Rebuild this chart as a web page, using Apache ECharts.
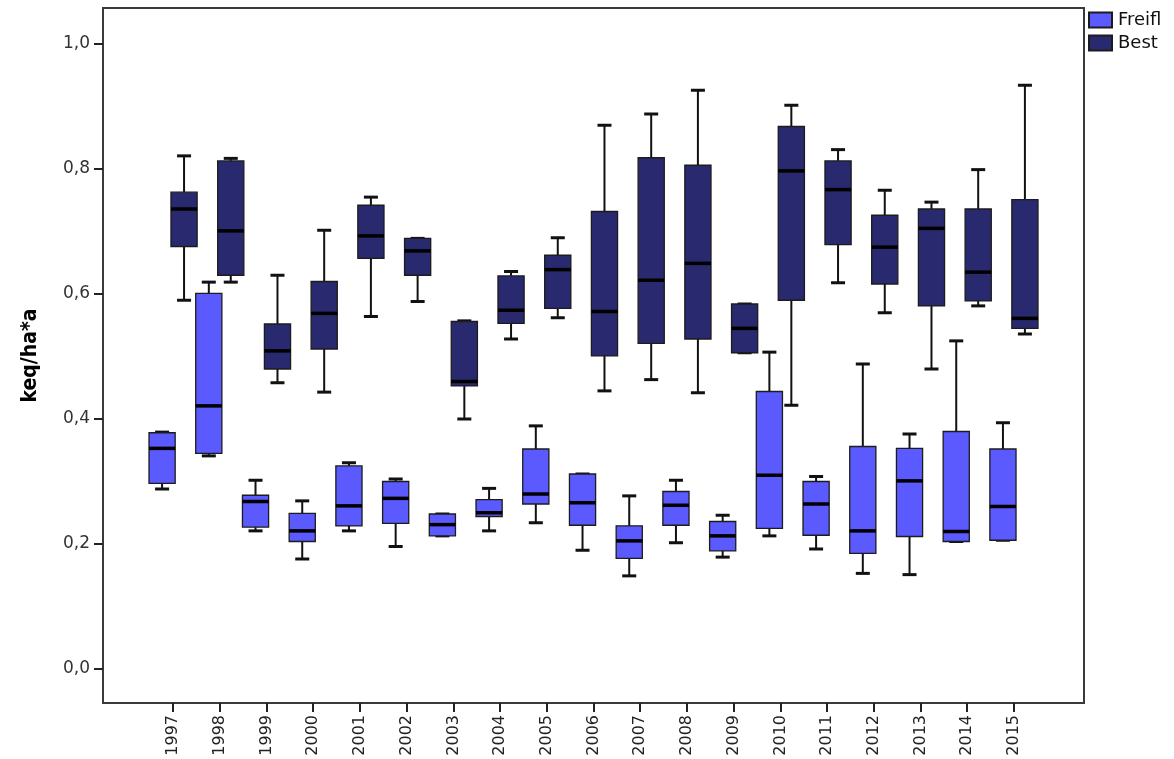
<!DOCTYPE html>
<html>
<head>
<meta charset="utf-8">
<script src="https://cdn.jsdelivr.net/npm/echarts@6/dist/echarts.min.js"></script>
<style>
  html, body { margin: 0; padding: 0; background: #ffffff; }
  #chart { width: 1174px; height: 759px; }
</style>
</head>
<body>
<div id="chart"></div>
<script>
// Years on the category axis
const years = ['1997','1998','1999','2000','2001','2002','2003','2004','2005','2006',
               '2007','2008','2009','2010','2011','2012','2013','2014','2015'];

// Freifläche: five-number summaries per year
const freiMin = [0.288,0.341,0.221,0.176,0.221,0.196,0.213,0.221,0.234,0.190,0.149,0.202,0.179,0.213,0.192,0.153,0.151,0.204,0.206];
const freiQ1  = [0.297,0.345,0.227,0.204,0.229,0.233,0.213,0.244,0.264,0.230,0.177,0.230,0.189,0.225,0.214,0.185,0.212,0.204,0.206];
const freiMed = [0.353,0.421,0.268,0.221,0.261,0.273,0.231,0.250,0.280,0.266,0.205,0.262,0.213,0.310,0.264,0.221,0.301,0.220,0.260];
const freiQ3  = [0.378,0.601,0.278,0.249,0.325,0.300,0.248,0.271,0.352,0.312,0.229,0.284,0.236,0.444,0.300,0.356,0.353,0.380,0.352];
const freiMax = [0.379,0.619,0.302,0.269,0.330,0.304,0.248,0.289,0.389,0.312,0.277,0.302,0.246,0.507,0.308,0.488,0.376,0.525,0.394];

// Bestand: five-number summaries per year
const bestMin = [0.590,0.619,0.458,0.443,0.564,0.588,0.400,0.528,0.562,0.445,0.463,0.442,0.506,0.422,0.618,0.570,0.480,0.581,0.536];
const bestQ1  = [0.676,0.630,0.480,0.512,0.657,0.630,0.453,0.553,0.577,0.501,0.521,0.528,0.506,0.590,0.679,0.616,0.581,0.589,0.545];
const bestMed = [0.736,0.701,0.509,0.569,0.693,0.669,0.460,0.574,0.639,0.572,0.622,0.649,0.545,0.797,0.767,0.675,0.705,0.635,0.561];
const bestQ3  = [0.763,0.813,0.552,0.620,0.742,0.689,0.556,0.629,0.662,0.732,0.818,0.806,0.584,0.868,0.813,0.726,0.736,0.736,0.751];
const bestMax = [0.821,0.817,0.630,0.702,0.755,0.689,0.557,0.636,0.690,0.870,0.888,0.926,0.584,0.902,0.831,0.766,0.747,0.799,0.934];

// Tick values for the value axis
const yTicks = [0, 0.2, 0.4, 0.6, 0.8, 1.0];

// Empty categories pad the plot area on both sides
const categories = [''].concat(years, ['']);

function rows(mn, q1, md, q3, mx) {
  return years.map((y, i) => [y, mn[i], q1[i], md[i], q3[i], mx[i]]);
}

// Draws one box with whiskers, caps and a heavy median bar
function boxRenderer(side) {
  return function (params, api) {
    const cat = api.value(0);
    const band = api.size([1, 0])[0];
    const cx = api.coord([cat, 0])[0] + side * band * 0.235;
    const yMin = api.coord([cat, api.value(1)])[1];
    const yQ1 = api.coord([cat, api.value(2)])[1];
    const yMed = api.coord([cat, api.value(3)])[1];
    const yQ3 = api.coord([cat, api.value(4)])[1];
    const yMax = api.coord([cat, api.value(5)])[1];
    const bw = band * 0.56;
    const cw = band * 0.3;
    const fill = api.visual('color');
    const ink = { stroke: '#111111', lineWidth: 2 };
    return {
      type: 'group',
      children: [
        { type: 'line', shape: { x1: cx, y1: yMax, x2: cx, y2: yQ3 }, style: ink },
        { type: 'line', shape: { x1: cx, y1: yQ1, x2: cx, y2: yMin }, style: ink },
        { type: 'line', shape: { x1: cx - cw / 2, y1: yMax, x2: cx + cw / 2, y2: yMax }, style: { stroke: '#111111', lineWidth: 3 } },
        { type: 'line', shape: { x1: cx - cw / 2, y1: yMin, x2: cx + cw / 2, y2: yMin }, style: { stroke: '#111111', lineWidth: 3 } },
        { type: 'rect', shape: { x: cx - bw / 2, y: yQ3, width: bw, height: yQ1 - yQ3 },
          style: { fill: fill, stroke: '#1c1c1c', lineWidth: 1.3 } },
        { type: 'line', shape: { x1: cx - bw / 2, y1: yMed, x2: cx + bw / 2, y2: yMed },
          style: { stroke: '#000000', lineWidth: 3.5 } }
      ]
    };
  };
}

const chart = echarts.init(document.getElementById('chart'), null, { renderer: 'canvas' });

chart.setOption({
  backgroundColor: '#ffffff',
  animation: false,
  grid: {
    left: 103, right: 90, top: 8, bottom: 56,
    show: true, borderColor: '#3a3a3a', borderWidth: 2, backgroundColor: 'transparent'
  },
  legend: {
    data: ['Freifl', 'Best'],
    orient: 'vertical',
    left: 1088, top: 11,
    padding: 0,
    itemWidth: 23, itemHeight: 15, itemGap: 5,
    icon: 'rect',
    textStyle: { fontFamily: 'DejaVu Sans, Liberation Sans, sans-serif', fontSize: 18, color: '#111111', padding: [0, 0, 0, 1] }
  },
  xAxis: {
    type: 'category',
    data: categories,
    boundaryGap: true,
    axisLine: { show: true, onZero: false, lineStyle: { color: '#3a3a3a', width: 2 } },
    axisTick: {
      show: true, alignWithLabel: true, length: 9,
      interval: (i, v) => v !== '',
      lineStyle: { color: '#222222', width: 2 }
    },
    axisLabel: {
      interval: 0, rotate: 90, margin: 12,
      fontFamily: 'DejaVu Sans, Liberation Sans, sans-serif', fontSize: 16, color: '#222222'
    },
    splitLine: { show: false }
  },
  yAxis: {
    type: 'value',
    min: -0.0544, max: 1.0576,
    name: 'keq/ha*a',
    nameLocation: 'middle',
    nameGap: 62,
    nameTextStyle: {
      fontFamily: 'Liberation Sans Narrow, DejaVu Sans Condensed, Liberation Sans, sans-serif',
      fontWeight: 'bold', fontSize: 21, color: '#000000'
    },
    axisLine: { show: true, lineStyle: { color: '#3a3a3a', width: 2 } },
    axisTick: { show: true, length: 9, customValues: yTicks, lineStyle: { color: '#222222', width: 2 } },
    axisLabel: {
      customValues: yTicks, margin: 13,
      formatter: v => v.toFixed(1).replace('.', ','),
      fontFamily: 'DejaVu Sans, Liberation Sans, sans-serif', fontSize: 17, color: '#333333'
    },
    splitLine: { show: false }
  },
  series: [
    {
      name: 'Freifl',
      type: 'custom',
      itemStyle: { color: '#5a5aff', borderColor: '#1c1c1c', borderWidth: 1 },
      encode: { x: 0, y: [1, 2, 3, 4, 5] },
      renderItem: boxRenderer(-1),
      data: rows(freiMin, freiQ1, freiMed, freiQ3, freiMax)
    },
    {
      name: 'Best',
      type: 'custom',
      itemStyle: { color: '#29296f', borderColor: '#1c1c1c', borderWidth: 1 },
      encode: { x: 0, y: [1, 2, 3, 4, 5] },
      renderItem: boxRenderer(1),
      data: rows(bestMin, bestQ1, bestMed, bestQ3, bestMax)
    }
  ]
});
</script>
</body>
</html>
